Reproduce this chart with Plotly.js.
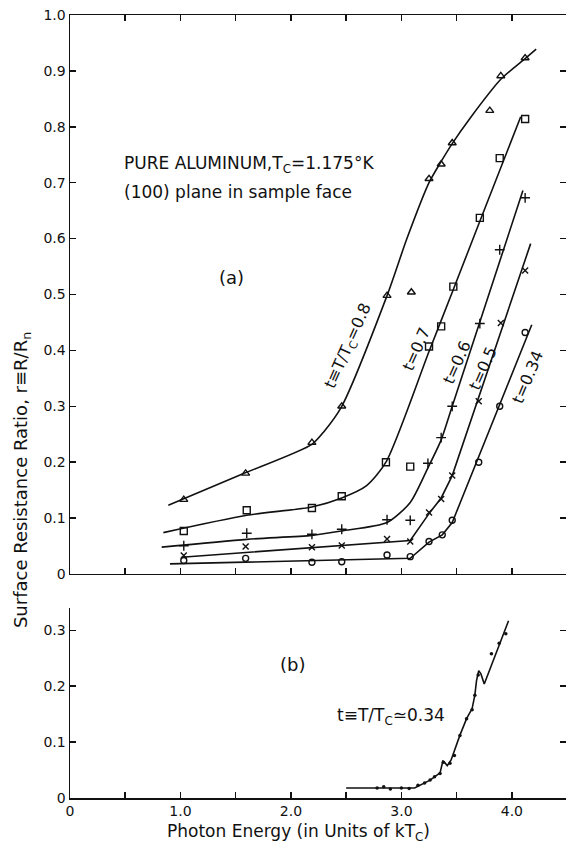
<!DOCTYPE html>
<html>
<head>
<meta charset="utf-8">
<script src="https://cdn.plot.ly/plotly-3.0.1.min.js"></script>
<style>html,body{margin:0;padding:0;background:#fff;}#chart{width:566px;height:844px;}</style>
</head>
<body>
<div id="chart"></div>
<script>
// ---------- Panel (a): measured points ----------
const t08_x = [1.03, 1.59, 2.19, 2.46, 2.87, 3.09, 3.25, 3.36, 3.46, 3.80, 3.90, 4.12];
const t08_y = [0.133, 0.180, 0.235, 0.300, 0.498, 0.504, 0.707, 0.733, 0.771, 0.829, 0.891, 0.923];
const t07_x = [1.03, 1.60, 2.19, 2.46, 2.86, 3.08, 3.25, 3.36, 3.47, 3.71, 3.89, 4.12];
const t07_y = [0.077, 0.114, 0.118, 0.139, 0.200, 0.192, 0.407, 0.443, 0.514, 0.637, 0.744, 0.814];
const t06_x = [1.03, 1.60, 2.19, 2.46, 2.87, 3.08, 3.24, 3.36, 3.46, 3.71, 3.89, 4.12];
const t06_y = [0.0505, 0.073, 0.071, 0.080, 0.097, 0.096, 0.198, 0.244, 0.300, 0.448, 0.580, 0.673];
const t05_x = [1.03, 1.59, 2.19, 2.46, 2.87, 3.08, 3.25, 3.36, 3.46, 3.70, 3.90, 4.12];
const t05_y = [0.033, 0.049, 0.048, 0.051, 0.0625, 0.058, 0.110, 0.134, 0.176, 0.309, 0.449, 0.543];
const t034_x = [1.03, 1.59, 2.19, 2.46, 2.87, 3.08, 3.25, 3.37, 3.46, 3.70, 3.89, 4.12];
const t034_y = [0.024, 0.028, 0.021, 0.022, 0.034, 0.031, 0.058, 0.070, 0.096, 0.200, 0.300, 0.432];

// ---------- Panel (a): hand-drawn fitted curves ----------
const fit08_x = [0.89, 1.55, 2.19, 2.30, 2.46, 2.87, 3.05, 3.25, 3.36, 3.46, 3.62, 3.90, 4.12, 4.22];
const fit08_y = [0.123, 0.178, 0.232, 0.255, 0.300, 0.498, 0.600, 0.700, 0.738, 0.770, 0.815, 0.885, 0.922, 0.939];
const fit07_x = [0.845, 1.60, 2.19, 2.46, 2.685, 2.86, 3.25, 3.47, 3.71, 4.08];
const fit07_y = [0.074, 0.105, 0.120, 0.136, 0.158, 0.200, 0.398, 0.509, 0.631, 0.818];
const fit06_x = [0.83, 1.60, 2.19, 2.46, 2.87, 3.08, 3.24, 3.36, 3.46, 4.10];
const fit06_y = [0.048, 0.062, 0.069, 0.077, 0.092, 0.128, 0.190, 0.240, 0.300, 0.686];
const fit05_x = [1.01, 3.08, 3.25, 3.36, 3.46, 4.17];
const fit05_y = [0.030, 0.060, 0.108, 0.136, 0.176, 0.591];
const fit034_x = [0.905, 3.08, 3.25, 3.37, 3.46, 4.18];
const fit034_y = [0.018, 0.028, 0.057, 0.070, 0.092, 0.446];

// ---------- Panel (b): t = 0.34 fine scan ----------
const b_x = [2.78, 2.84, 2.90, 3.00, 3.07, 3.15, 3.21, 3.26, 3.30, 3.35, 3.38, 3.44, 3.48, 3.53, 3.59, 3.64, 3.665, 3.695, 3.815, 3.885, 3.945];
const b_y = [0.018, 0.020, 0.016, 0.018, 0.017, 0.023, 0.027, 0.032, 0.038, 0.044, 0.064, 0.062, 0.076, 0.112, 0.142, 0.158, 0.184, 0.220, 0.258, 0.277, 0.294];
const bl_x = [2.50, 3.12, 3.26, 3.35, 3.375, 3.385, 3.415, 3.45, 3.53, 3.59, 3.64, 3.665, 3.68, 3.70, 3.72, 3.75, 3.97];
const bl_y = [0.018, 0.018, 0.032, 0.045, 0.066, 0.065, 0.058, 0.068, 0.1125, 0.142, 0.160, 0.184, 0.210, 0.228, 0.222, 0.204, 0.317];

// ---------- Tick labels ----------
const xTickVals = [0, 0.5, 1, 1.5, 2, 2.5, 3, 3.5, 4, 4.5];
const xTickText = ["0", "", "1.0", "", "2.0", "", "3.0", "", "4.0", ""];
const yaTickVals = [0, 0.1, 0.2, 0.3, 0.4, 0.5, 0.6, 0.7, 0.8, 0.9, 1.0];
const yaTickText = ["0", "0.1", "0.2", "0.3", "0.4", "0.5", "0.6", "0.7", "0.8", "0.9", "1.0"];
const ybTickVals = [0, 0.1, 0.2, 0.3];
const ybTickText = ["0", "0.1", "0.2", "0.3"];

const INK = '#111111';
const FONT = 'DejaVu Sans, sans-serif';

function curve(x, y, xa, ya, shape) {
  return {x: x, y: y, xaxis: xa, yaxis: ya, mode: 'lines', type: 'scatter',
    line: {color: INK, width: 1.6, shape: shape || 'spline', smoothing: 0.7}, hoverinfo: 'skip'};
}
function pts(x, y, sym, size) {
  return {x: x, y: y, xaxis: 'x2', yaxis: 'y2', mode: 'markers', type: 'scatter',
    marker: {symbol: sym, size: size, color: INK, line: {color: INK, width: 1.4}}};
}
function label(xref, yref, x, y, text, size, angle, xanchor) {
  return {xref: xref, yref: yref, x: x, y: y, text: text, showarrow: false,
    xanchor: xanchor || 'center', yanchor: 'middle', textangle: angle || 0,
    font: {family: FONT, size: size, color: INK}};
}

const traces = [
  curve(fit08_x, fit08_y, 'x2', 'y2'),
  curve(fit07_x, fit07_y, 'x2', 'y2'),
  curve(fit06_x, fit06_y, 'x2', 'y2'),
  curve(fit05_x, fit05_y, 'x2', 'y2', 'linear'),
  curve(fit034_x, fit034_y, 'x2', 'y2', 'linear'),
  pts(t08_x, t08_y, 'triangle-up-open', 7),
  pts(t07_x, t07_y, 'square-open', 7),
  pts(t06_x, t06_y, 'cross-thin-open', 7),
  pts(t05_x, t05_y, 'x-thin-open', 6),
  pts(t034_x, t034_y, 'circle-open', 6),
  curve(bl_x, bl_y, 'x', 'y', 'linear'),
  {x: b_x, y: b_y, xaxis: 'x', yaxis: 'y', mode: 'markers', type: 'scatter',
   marker: {symbol: 'circle', size: 3.5, color: INK}},
  // carriers for the right-hand tick axes
  {x: [], y: [], xaxis: 'x2', yaxis: 'y3', type: 'scatter', mode: 'markers', hoverinfo: 'skip'},
  {x: [], y: [], xaxis: 'x', yaxis: 'y4', type: 'scatter', mode: 'markers', hoverinfo: 'skip'}
];

const axCommon = {
  showgrid: false, zeroline: false, showline: true, linecolor: INK, linewidth: 1.5,
  ticks: 'inside', ticklen: 6, tickwidth: 1.5, tickcolor: INK,
  tickfont: {family: FONT, size: 14, color: INK}
};

const layout = {
  width: 566, height: 844,
  margin: {l: 70, r: 0, t: 15, b: 46},
  paper_bgcolor: '#fff', plot_bgcolor: '#fff',
  showlegend: false,
  font: {family: FONT, color: INK},
  xaxis: Object.assign({}, axCommon, {domain: [0, 1], anchor: 'y', range: [0, 4.49],
    tickmode: 'array', tickvals: xTickVals, ticktext: xTickText, ticklabelstandoff: 0}),
  yaxis: Object.assign({}, axCommon, {domain: [0, 0.2427], anchor: 'x', range: [0, 0.34],
    tickmode: 'array', tickvals: ybTickVals, ticktext: ybTickText}),
  xaxis2: Object.assign({}, axCommon, {domain: [0, 1], anchor: 'y2', range: [0, 4.49],
    tickmode: 'array', tickvals: xTickVals, showticklabels: false, mirror: 'ticks'}),
  yaxis2: Object.assign({}, axCommon, {domain: [0.2861, 1], anchor: 'x2', range: [0, 1.0],
    tickmode: 'array', tickvals: yaTickVals, ticktext: yaTickText}),
  yaxis3: Object.assign({}, axCommon, {overlaying: 'y2', side: 'right', range: [0, 1.0], showline: false,
    tickmode: 'array', tickvals: yaTickVals, showticklabels: false}),
  yaxis4: Object.assign({}, axCommon, {overlaying: 'y', side: 'right', range: [0, 0.34], showline: false,
    tickmode: 'array', tickvals: ybTickVals, showticklabels: false}),
  annotations: [
    label('x2', 'y2', 0.47, 0.732, 'PURE ALUMINUM,T<sub>C</sub>=1.175°K', 17, 0, 'left'),
    label('x2', 'y2', 0.47, 0.683, '(100) plane in sample face', 17, 0, 'left'),
    label('x2', 'y2', 1.466, 0.53, '(a)', 18),
    label('x2', 'y2', 2.525, 0.408, 't≡T/T<sub>C</sub>=0.8', 16, -66),
    label('x2', 'y2', 3.14, 0.4025, 't=0.7', 16, -66),
    label('x2', 'y2', 3.50, 0.379, 't=0.6', 16, -66),
    label('x2', 'y2', 3.74, 0.367, 't=0.5', 16, -66),
    label('x2', 'y2', 4.14, 0.352, 't=0.34', 16, -67),
    label('x', 'y', 2.01, 0.239, '(b)', 18),
    label('x', 'y', 2.91, 0.146, 't≡T/T<sub>C</sub>≃0.34', 17),
    label('paper', 'paper', -0.0968, 0.406, 'Surface Resistance Ratio, r≡R/R<sub>n</sub>', 18, -90),
    label('paper', 'paper', 0.46, -0.0435, 'Photon Energy (in Units of kT<sub>C</sub>)', 17)
  ]
};

Plotly.newPlot('chart', traces, layout, {staticPlot: true, displayModeBar: false});
</script>
</body>
</html>
